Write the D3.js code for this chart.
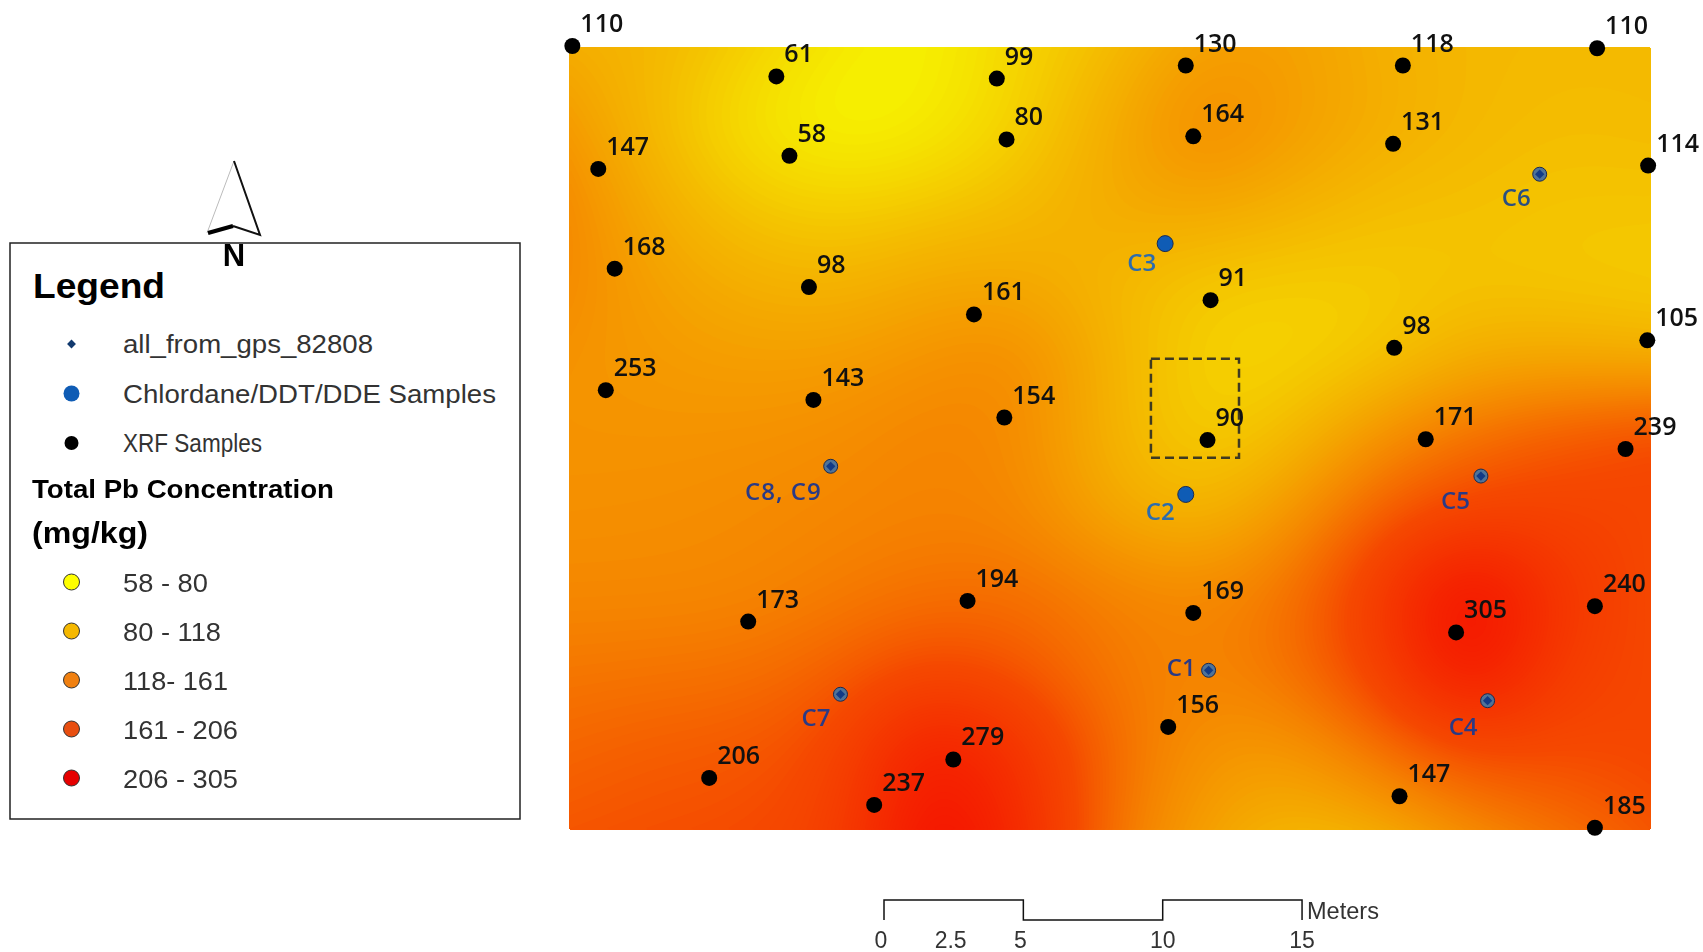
<!DOCTYPE html>
<html>
<head>
<meta charset="utf-8">
<title>Total Pb Concentration</title>
<script src="https://cdn.jsdelivr.net/npm/d3@7"></script>
<style>
  body { margin: 0; background: #fff; }
  svg { filter: blur(0.5px); }
  text { font-family: "Liberation Sans", sans-serif; }
  .value { font-family: "Open Sans", sans-serif; font-weight: 600; font-size: 25px; fill: #111; }
  .chem { font-family: "Open Sans", sans-serif; font-weight: 600; font-size: 24px; }
  .legend-item { font-size: 25px; fill: #333; }
</style>
</head>
<body>
<div id="map"></div>
<script>
// XRF samples: metres from the SW corner of the grid, and Pb in mg/kg
const xrfEast = [0.12, 7.44, 15.35, 22.13, 29.92, 36.89, 1.05, 7.91, 15.70, 22.40, 29.57, 38.72,
  1.64, 8.61, 14.53, 23.02, 29.61, 38.69, 1.32, 8.77, 15.62, 22.91, 30.74, 37.91,
  6.43, 14.30, 22.40, 31.83, 36.81, 5.03, 13.79, 10.95, 21.50, 29.80, 36.81];
const xrfNorth = [28.13, 27.04, 26.96, 27.43, 27.43, 28.05, 23.72, 24.19, 24.78, 24.89, 24.62, 23.84,
  20.14, 19.48, 18.50, 19.01, 17.30, 17.57, 15.78, 15.43, 14.80, 13.99, 14.02, 13.67,
  7.48, 8.22, 7.79, 7.09, 8.03, 1.87, 2.53, 0.90, 3.70, 1.21, 0.08];
const xrfPb = [110, 61, 99, 130, 118, 110, 147, 58, 80, 164, 131, 114,
  168, 98, 161, 91, 98, 105, 253, 143, 154, 90, 171, 239,
  173, 194, 169, 305, 240, 206, 279, 237, 156, 147, 185];

// Chlordane/DDT/DDE samples
const chemNames = ['C1', 'C2', 'C3', 'C4', 'C5', 'C6', 'C7', 'C8, C9'];
const chemEast = [22.95, 22.13, 21.39, 32.96, 32.72, 34.83, 9.74, 9.39];
const chemNorth = [5.73, 12.04, 21.04, 4.64, 12.70, 23.53, 4.87, 13.05];
const chemHasGps = [true, false, false, true, true, true, true, true];

// interpolated Pb surface, north row first
const surfaceRows = [
  [115, 105, 85, 66, 62, 84, 102, 130, 128, 112, 105, 103, 103],
  [130, 100, 72, 58, 66, 86, 115, 150, 130, 115, 105, 100, 102],
  [145, 112, 92, 86, 92, 102, 118, 122, 112, 100, 98, 95, 95],
  [145, 125, 112, 108, 120, 120, 105, 92, 88, 90, 95, 92, 90],
  [137, 132, 128, 130, 140, 147, 110, 85, 84, 92, 115, 118, 112],
  [138, 138, 140, 144, 153, 147, 108, 88, 100, 140, 170, 190, 205],
  [142, 143, 146, 150, 153, 150, 120, 105, 135, 185, 210, 212, 205],
  [148, 148, 150, 158, 168, 170, 155, 148, 165, 225, 320, 232, 205],
  [163, 165, 168, 182, 205, 190, 160, 150, 165, 212, 300, 218, 205],
  [178, 185, 188, 205, 285, 240, 172, 138, 132, 165, 198, 200, 205],
  [190, 195, 198, 212, 305, 255, 165, 128, 107, 118, 150, 170, 190]
];

// colour ramp of the surface
const rampStops = [58, 100, 150, 200, 300];
const rampColors = ['#f6f600', '#f4bc00', '#f58500', '#f54800', '#f51000'];

// dashed box on the map
const boxEast = [20.88, 24.04];
const boxNorth = [13.36, 16.91];

// legend
const markerNames = ['all_from_gps_82808', 'Chlordane/DDT/DDE Samples', 'XRF Samples'];
const classNames = ['58 - 80', '80 - 118', '118- 161', '161 - 206', '206 - 305'];
const classColors = ['#ffff00', '#f5b800', '#f08010', '#e84e10', '#e60000'];

// scale bar
const barTicks = [0, 2.5, 5, 10, 15];
const barSteps = [[0, 0], [0, 1], [5, 1], [5, 0], [10, 0], [10, 1], [15, 1], [15, 0]];

/**
 * Resample the coarse grid with basis splines, rows first and then columns
 */
function resample(rows, nx, ny) {
  const wide = rows.map(r => {
    const f = d3.interpolateBasis(r);
    return d3.range(nx).map(i => f(i / (nx - 1)));
  });
  const values = new Float64Array(nx * ny);
  d3.range(nx).forEach(i => {
    const f = d3.interpolateBasis(wide.map(r => r[i]));
    d3.range(ny).forEach(j => {
      values[j * nx + i] = f(j / (ny - 1));
    });
  });
  return values;
}

function drawMap(svg, x, y, MAP) {
  const NX = 270;
  const NY = 196;
  const color = d3.scaleLinear().domain(rampStops).range(rampColors);

  const contours = d3.contours()
    .size([NX, NY])
    .thresholds(d3.range(40, 320, 2))(resample(surfaceRows, NX, NY));

  svg.append('g')
    .attr('transform', `translate(${MAP.left},${MAP.top}) scale(${MAP.width / NX},${MAP.height / NY})`)
    .selectAll('path')
    .data(contours)
    .join('path')
      .attr('d', d3.geoPath())
      .attr('fill', d => color(d.value));

  // dashed box
  svg.append('rect')
    .attr('x', x(boxEast[0]))
    .attr('y', y(boxNorth[1]))
    .attr('width', x(boxEast[1]) - x(boxEast[0]))
    .attr('height', y(boxNorth[0]) - y(boxNorth[1]))
    .attr('fill', 'none')
    .attr('stroke', '#3f3a20')
    .attr('stroke-width', 2.5)
    .attr('stroke-dasharray', '9 5');

  // XRF points and their values
  svg.append('g').selectAll('circle')
    .data(xrfPb)
    .join('circle')
      .attr('cx', (_, i) => x(xrfEast[i]))
      .attr('cy', (_, i) => y(xrfNorth[i]))
      .attr('r', 8)
      .attr('fill', '#000');

  svg.append('g').selectAll('text')
    .data(xrfPb)
    .join('text')
      .attr('class', 'value')
      .attr('x', (_, i) => x(xrfEast[i]) + 8)
      .attr('y', (_, i) => y(xrfNorth[i]) - 14)
      .text(d => d);

  // chemistry samples, most with the gps diamond on top
  const chem = svg.append('g').selectAll('g')
    .data(chemNames)
    .join('g')
      .attr('transform', (_, i) => `translate(${x(chemEast[i])},${y(chemNorth[i])})`);

  chem.append('circle')
    .attr('r', (_, i) => chemHasGps[i] ? 7 : 8)
    .attr('fill', (_, i) => chemHasGps[i] ? '#4f7398' : '#0f5cb5')
    .attr('stroke', '#1a2a50')
    .attr('stroke-width', 1);

  chem.filter((_, i) => chemHasGps[i]).append('path')
    .attr('d', d3.symbol(d3.symbolDiamond2, 55))
    .attr('fill', '#123a86');

  // label offsets differ per sample in the map layout
  const chemLabelOffset = {
    'C1': [-13, 6], 'C2': [-11, 26], 'C3': [-9, 27], 'C4': [-10, 34],
    'C5': [-11, 33], 'C6': [-9, 32], 'C7': [-10, 32], 'C8, C9': [-9, 34]
  };
  const paleNames = ['C2', 'C3'];
  chem.append('text')
    .attr('class', 'chem')
    .attr('text-anchor', 'end')
    .attr('x', d => chemLabelOffset[d][0])
    .attr('y', d => chemLabelOffset[d][1])
    .attr('fill', d => paleNames.includes(d) ? '#2c6cad' : d === 'C6' ? '#2a4f80' : '#2a3a85')
    .attr('letter-spacing', d => d === 'C8, C9' ? 1 : 0)
    .text(d => d);
}

function drawLegend(svg) {
  const BOX = { left: 10, top: 243, width: 510, height: 576 };
  const MARK_X = 71.5;
  const TEXT_X = 123;

  svg.append('rect')
    .attr('x', BOX.left)
    .attr('y', BOX.top)
    .attr('width', BOX.width)
    .attr('height', BOX.height)
    .attr('fill', '#fff')
    .attr('stroke', '#222')
    .attr('stroke-width', 1.5);

  svg.append('text')
    .attr('x', 33)
    .attr('y', 298)
    .attr('font-size', 35)
    .attr('font-weight', 700)
    .attr('textLength', 132)
    .attr('lengthAdjust', 'spacingAndGlyphs')
    .text('Legend');

  const markerY = d3.scalePoint().domain(markerNames).range([344, 443]);
  const classY = d3.scalePoint().domain(classNames).range([582, 778]);

  const markerWidths = [250, 373, 139];
  const classWidths = [85, 98, 105, 115, 115];

  svg.append('g').selectAll('text')
    .data(markerNames)
    .join('text')
      .attr('class', 'legend-item')
      .attr('x', TEXT_X)
      .attr('y', d => markerY(d) + 9)
      .attr('textLength', (_, i) => markerWidths[i])
      .attr('lengthAdjust', 'spacingAndGlyphs')
      .text(d => d);

  svg.append('path')
    .attr('transform', `translate(${MARK_X},${markerY(markerNames[0])})`)
    .attr('d', d3.symbol(d3.symbolDiamond2, 50))
    .attr('fill', '#123a6e');
  svg.append('circle')
    .attr('cx', MARK_X)
    .attr('cy', markerY(markerNames[1]))
    .attr('r', 8)
    .attr('fill', '#0f5cb5');
  svg.append('circle')
    .attr('cx', MARK_X)
    .attr('cy', markerY(markerNames[2]))
    .attr('r', 7)
    .attr('fill', '#000');

  svg.append('text')
    .attr('x', 32)
    .attr('y', 498)
    .attr('font-size', 26)
    .attr('font-weight', 700)
    .attr('textLength', 302)
    .attr('lengthAdjust', 'spacingAndGlyphs')
    .text('Total Pb Concentration');
  svg.append('text')
    .attr('x', 32)
    .attr('y', 543)
    .attr('font-size', 30)
    .attr('font-weight', 700)
    .attr('textLength', 116)
    .attr('lengthAdjust', 'spacingAndGlyphs')
    .text('(mg/kg)');

  svg.append('g').selectAll('circle')
    .data(classNames)
    .join('circle')
      .attr('cx', MARK_X)
      .attr('cy', d => classY(d))
      .attr('r', 8)
      .attr('fill', (_, i) => classColors[i])
      .attr('stroke', '#333')
      .attr('stroke-width', 1);

  svg.append('g').selectAll('text')
    .data(classNames)
    .join('text')
      .attr('class', 'legend-item')
      .attr('x', TEXT_X)
      .attr('y', d => classY(d) + 10)
      .attr('textLength', (_, i) => classWidths[i])
      .attr('lengthAdjust', 'spacingAndGlyphs')
      .text(d => d);
}

function drawNorthArrow(svg) {
  const g = svg.append('g').attr('fill', 'none').attr('stroke-linejoin', 'miter');
  g.append('path')
    .attr('d', 'M234 161L207 233')
    .attr('stroke', '#bbb')
    .attr('stroke-width', 1);
  g.append('path')
    .attr('d', 'M234 161L260 235L233 226')
    .attr('stroke', '#111')
    .attr('stroke-width', 2);
  g.append('path')
    .attr('d', 'M208 233L233 226')
    .attr('stroke', '#000')
    .attr('stroke-width', 4);
  svg.append('text')
    .attr('x', 234)
    .attr('y', 266)
    .attr('text-anchor', 'middle')
    .attr('font-size', 31)
    .attr('font-weight', 700)
    .text('N');
}

function drawScaleBar(svg, pxPerMetre) {
  const bar = d3.scaleLinear().domain([0, 15]).range([884, 884 + 15 * pxPerMetre]);
  const level = d3.scaleLinear().domain([0, 1]).range([920, 900]);

  svg.append('path')
    .attr('d', d3.line().x(d => bar(d[0])).y(d => level(d[1]))(barSteps))
    .attr('fill', 'none')
    .attr('stroke', '#111')
    .attr('stroke-width', 1.5);

  svg.append('g').selectAll('text')
    .data(barTicks)
    .join('text')
      .attr('x', d => bar(d) - (d < 10 ? 3 : 0))
      .attr('y', 948)
      .attr('text-anchor', 'middle')
      .attr('font-size', 23)
      .attr('fill', '#333')
      .text(d => d);

  svg.append('text')
    .attr('x', 1307)
    .attr('y', 919)
    .attr('font-size', 23)
    .attr('fill', '#333')
    .attr('textLength', 72)
    .attr('lengthAdjust', 'spacingAndGlyphs')
    .text('Meters');
}

/**
 * Entry point
 */
(function main() {
  // constants
  const SVG_WIDTH = 1703;
  const SVG_HEIGHT = 952;
  const PX_PER_METRE = 27.87;
  const MAP = { left: 569, top: 47, width: 1082, height: 783 };

  const svg = d3.select('#map').append('svg')
    .attr('width', SVG_WIDTH)
    .attr('height', SVG_HEIGHT)
    .style('display', 'block');

  // set up scales, north runs upward from the bottom of the surface
  const x = d3.scaleLinear()
    .domain([0, MAP.width / PX_PER_METRE])
    .range([MAP.left, MAP.left + MAP.width]);
  const y = d3.scaleLinear()
    .domain([0, MAP.height / PX_PER_METRE])
    .range([MAP.top + MAP.height, MAP.top]);

  drawMap(svg, x, y, MAP);
  drawLegend(svg);
  drawNorthArrow(svg);
  drawScaleBar(svg, PX_PER_METRE);
})();
</script>
</body>
</html>
